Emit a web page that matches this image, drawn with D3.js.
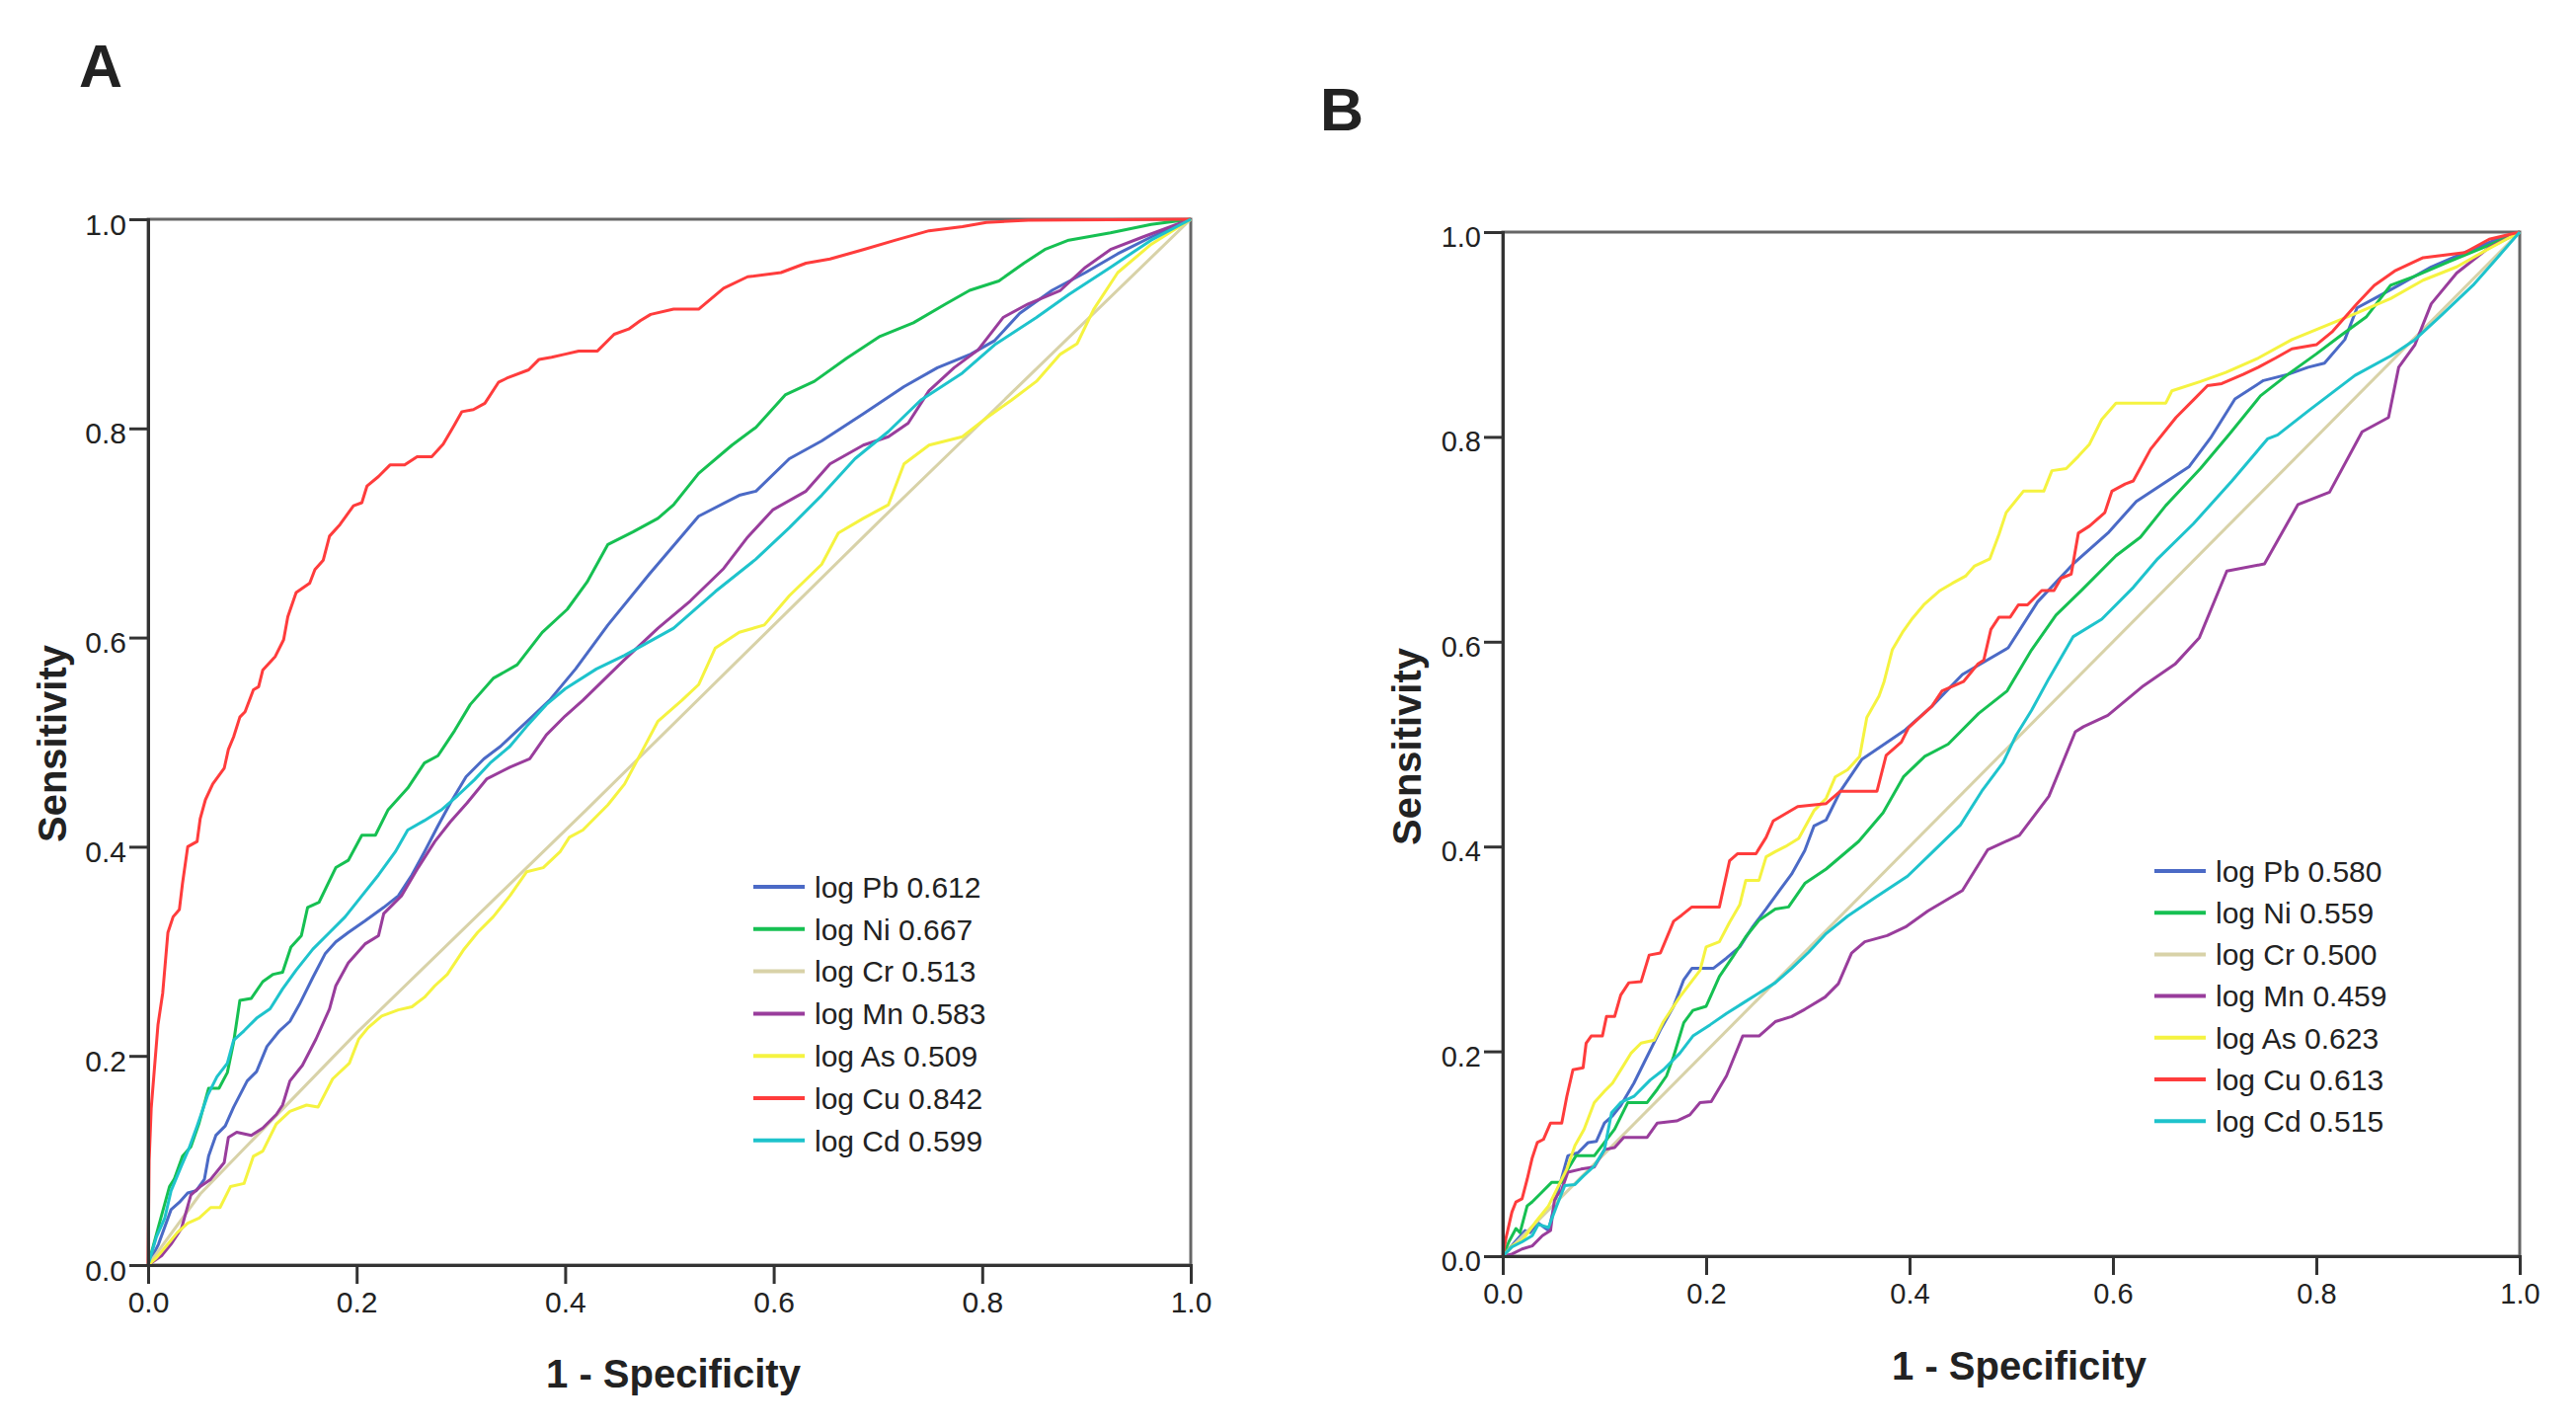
<!DOCTYPE html>
<html>
<head>
<meta charset="utf-8">
<script src="https://cdn.jsdelivr.net/npm/d3@7"></script>
<style>
  body { margin: 0; background: #fff; }
  svg text { font-family: "Liberation Sans", Arial, sans-serif; fill: #222; }
</style>
</head>
<body>
<svg id="chart" width="2609" height="1446"></svg>
<script>
// ---- data ----
var names = ["Pb", "Ni", "Cr", "Mn", "As", "Cu", "Cd"];
var colors = ["#4b6ac6", "#16c052", "#d8d2a8", "#993d9c", "#f5f340", "#ff3c3c", "#1ec3cc"];
var aucA = ["0.612", "0.667", "0.513", "0.583", "0.509", "0.842", "0.599"];
var aucB = ["0.580", "0.559", "0.500", "0.459", "0.623", "0.613", "0.515"];
var ticks = [0, 0.2, 0.4, 0.6, 0.8, 1.0];

var pbA = [[0,0],[0.01,0.02],[0.022,0.053],[0.03,0.06],[0.038,0.069],[0.046,0.071],[0.054,0.082],[0.058,0.104],[0.065,0.124],[0.074,0.133],[0.082,0.151],[0.095,0.176],[0.104,0.185],[0.114,0.209],[0.126,0.224],[0.136,0.233],[0.145,0.249],[0.158,0.275],[0.17,0.298],[0.18,0.309],[0.192,0.318],[0.208,0.329],[0.226,0.342],[0.24,0.353],[0.253,0.373],[0.265,0.395],[0.278,0.42],[0.29,0.442],[0.305,0.467],[0.322,0.484],[0.338,0.496],[0.354,0.511],[0.369,0.525],[0.385,0.54],[0.41,0.57],[0.441,0.612],[0.481,0.661],[0.504,0.688],[0.528,0.716],[0.567,0.736],[0.583,0.74],[0.615,0.771],[0.646,0.788],[0.686,0.814],[0.725,0.84],[0.757,0.858],[0.789,0.871],[0.812,0.884],[0.836,0.91],[0.867,0.932],[0.899,0.949],[0.93,0.967],[0.962,0.983],[1,1]];
var niA = [[0,0],[0.0095,0.035],[0.0205,0.075],[0.025,0.082],[0.033,0.104],[0.041,0.113],[0.049,0.136],[0.058,0.169],[0.068,0.169],[0.076,0.184],[0.082,0.213],[0.088,0.253],[0.099,0.255],[0.11,0.271],[0.12,0.278],[0.129,0.28],[0.137,0.304],[0.147,0.315],[0.153,0.342],[0.164,0.347],[0.18,0.38],[0.192,0.387],[0.205,0.411],[0.218,0.411],[0.23,0.435],[0.249,0.456],[0.265,0.48],[0.278,0.487],[0.294,0.511],[0.309,0.536],[0.331,0.561],[0.354,0.574],[0.378,0.605],[0.402,0.627],[0.421,0.653],[0.441,0.689],[0.465,0.701],[0.489,0.714],[0.504,0.727],[0.528,0.757],[0.56,0.784],[0.583,0.801],[0.611,0.832],[0.639,0.845],[0.67,0.867],[0.702,0.888],[0.734,0.901],[0.765,0.919],[0.788,0.932],[0.816,0.941],[0.84,0.958],[0.86,0.971],[0.883,0.98],[0.923,0.987],[0.962,0.995],[1,1]];
var crA = [[0,0],[0.05,0.068],[0.2,0.222],[0.42,0.435],[0.7,0.71],[1,1]];
var mnA = [[0,0],[0.013,0.009],[0.022,0.02],[0.032,0.035],[0.041,0.067],[0.05,0.075],[0.06,0.082],[0.073,0.098],[0.077,0.122],[0.085,0.127],[0.099,0.124],[0.11,0.131],[0.123,0.144],[0.129,0.153],[0.136,0.176],[0.148,0.191],[0.161,0.216],[0.174,0.245],[0.18,0.267],[0.192,0.289],[0.208,0.307],[0.221,0.315],[0.226,0.336],[0.243,0.353],[0.259,0.38],[0.275,0.405],[0.29,0.424],[0.306,0.442],[0.325,0.465],[0.347,0.476],[0.366,0.484],[0.382,0.507],[0.4,0.525],[0.417,0.54],[0.457,0.579],[0.489,0.609],[0.52,0.635],[0.552,0.666],[0.575,0.696],[0.599,0.722],[0.631,0.74],[0.654,0.766],[0.686,0.784],[0.71,0.792],[0.729,0.805],[0.749,0.836],[0.773,0.858],[0.796,0.875],[0.82,0.906],[0.844,0.919],[0.875,0.932],[0.899,0.954],[0.923,0.971],[0.954,0.983],[1,1]];
var asA = [[0,0],[0.008,0.007],[0.019,0.02],[0.028,0.031],[0.038,0.04],[0.049,0.045],[0.06,0.055],[0.069,0.055],[0.079,0.075],[0.092,0.078],[0.101,0.104],[0.11,0.109],[0.123,0.135],[0.136,0.147],[0.152,0.153],[0.163,0.151],[0.177,0.178],[0.193,0.193],[0.202,0.216],[0.211,0.227],[0.224,0.238],[0.24,0.244],[0.253,0.247],[0.265,0.256],[0.275,0.267],[0.287,0.278],[0.303,0.302],[0.316,0.318],[0.331,0.333],[0.347,0.353],[0.363,0.376],[0.379,0.38],[0.395,0.395],[0.404,0.409],[0.417,0.416],[0.441,0.44],[0.457,0.46],[0.473,0.49],[0.489,0.52],[0.512,0.54],[0.528,0.555],[0.544,0.59],[0.567,0.605],[0.591,0.612],[0.615,0.64],[0.646,0.67],[0.662,0.7],[0.686,0.714],[0.71,0.727],[0.725,0.766],[0.749,0.784],[0.781,0.792],[0.804,0.81],[0.828,0.827],[0.852,0.845],[0.875,0.871],[0.891,0.881],[0.907,0.914],[0.93,0.949],[0.962,0.976],[1,1]];
var cuA = [[0,0],[0.001,0.1],[0.003,0.15],[0.006,0.187],[0.0095,0.23],[0.014,0.26],[0.019,0.318],[0.024,0.333],[0.03,0.34],[0.033,0.365],[0.038,0.4],[0.047,0.405],[0.05,0.427],[0.055,0.445],[0.062,0.46],[0.073,0.475],[0.077,0.493],[0.082,0.505],[0.088,0.524],[0.093,0.529],[0.101,0.55],[0.106,0.553],[0.11,0.569],[0.122,0.582],[0.13,0.598],[0.134,0.62],[0.142,0.643],[0.155,0.652],[0.16,0.665],[0.168,0.674],[0.174,0.697],[0.184,0.708],[0.197,0.726],[0.205,0.729],[0.21,0.745],[0.221,0.754],[0.232,0.765],[0.246,0.765],[0.258,0.773],[0.272,0.773],[0.283,0.785],[0.293,0.802],[0.301,0.816],[0.312,0.818],[0.323,0.824],[0.336,0.844],[0.344,0.848],[0.365,0.856],[0.375,0.866],[0.387,0.868],[0.4,0.871],[0.413,0.874],[0.431,0.874],[0.447,0.89],[0.461,0.895],[0.472,0.903],[0.482,0.909],[0.504,0.914],[0.528,0.914],[0.552,0.934],[0.575,0.945],[0.607,0.949],[0.631,0.958],[0.654,0.962],[0.686,0.971],[0.717,0.98],[0.749,0.989],[0.781,0.993],[0.804,0.997],[0.844,0.999],[1,1]];
var cdA = [[0,0],[0.008,0.027],[0.016,0.045],[0.022,0.071],[0.032,0.095],[0.039,0.111],[0.047,0.133],[0.057,0.162],[0.066,0.18],[0.076,0.193],[0.082,0.215],[0.092,0.224],[0.104,0.236],[0.117,0.245],[0.129,0.264],[0.142,0.282],[0.158,0.302],[0.174,0.318],[0.189,0.333],[0.205,0.353],[0.221,0.373],[0.237,0.395],[0.249,0.416],[0.265,0.425],[0.281,0.435],[0.297,0.449],[0.313,0.464],[0.328,0.48],[0.347,0.496],[0.363,0.515],[0.382,0.536],[0.4,0.551],[0.43,0.57],[0.457,0.583],[0.504,0.609],[0.544,0.644],[0.583,0.675],[0.615,0.705],[0.646,0.736],[0.678,0.771],[0.71,0.797],[0.741,0.827],[0.781,0.853],[0.812,0.88],[0.852,0.906],[0.883,0.928],[0.923,0.954],[0.962,0.98],[1,1]];

var pbB = [[0,0],[0.006,0.007],[0.013,0.015],[0.022,0.025],[0.027,0.023],[0.034,0.033],[0.045,0.025],[0.053,0.059],[0.064,0.098],[0.074,0.101],[0.084,0.111],[0.092,0.112],[0.1,0.13],[0.108,0.137],[0.116,0.147],[0.129,0.169],[0.142,0.195],[0.155,0.221],[0.168,0.244],[0.178,0.27],[0.186,0.281],[0.207,0.281],[0.22,0.291],[0.233,0.302],[0.246,0.322],[0.259,0.339],[0.272,0.357],[0.284,0.373],[0.297,0.396],[0.306,0.42],[0.318,0.426],[0.332,0.454],[0.353,0.485],[0.396,0.514],[0.422,0.537],[0.452,0.568],[0.497,0.594],[0.526,0.639],[0.561,0.676],[0.596,0.707],[0.623,0.737],[0.675,0.771],[0.696,0.799],[0.72,0.837],[0.748,0.855],[0.772,0.861],[0.792,0.868],[0.808,0.872],[0.828,0.895],[0.84,0.926],[0.857,0.935],[0.881,0.948],[0.913,0.966],[0.946,0.98],[0.978,0.993],[1,1]];
var niB = [[0,0],[0.006,0.014],[0.013,0.027],[0.017,0.023],[0.024,0.049],[0.029,0.053],[0.038,0.062],[0.048,0.072],[0.058,0.072],[0.064,0.085],[0.072,0.098],[0.09,0.098],[0.1,0.111],[0.11,0.124],[0.123,0.15],[0.142,0.15],[0.152,0.163],[0.161,0.176],[0.168,0.195],[0.178,0.228],[0.187,0.24],[0.2,0.244],[0.213,0.273],[0.226,0.292],[0.239,0.312],[0.252,0.328],[0.268,0.339],[0.281,0.341],[0.297,0.364],[0.318,0.378],[0.35,0.405],[0.374,0.433],[0.394,0.468],[0.415,0.488],[0.438,0.5],[0.468,0.53],[0.496,0.552],[0.52,0.592],[0.544,0.626],[0.569,0.65],[0.603,0.684],[0.627,0.702],[0.652,0.733],[0.686,0.769],[0.714,0.802],[0.745,0.84],[0.772,0.861],[0.8,0.881],[0.824,0.899],[0.849,0.917],[0.873,0.948],[0.897,0.957],[0.93,0.971],[0.962,0.984],[1,1]];
var crB = [[0,0],[1,1]];
var mnB = [[0,0],[0.009,0.002],[0.019,0.007],[0.029,0.01],[0.039,0.02],[0.047,0.025],[0.051,0.056],[0.058,0.065],[0.064,0.082],[0.077,0.085],[0.09,0.087],[0.1,0.104],[0.11,0.106],[0.119,0.116],[0.142,0.116],[0.152,0.13],[0.171,0.132],[0.184,0.138],[0.194,0.15],[0.205,0.151],[0.22,0.176],[0.236,0.215],[0.252,0.215],[0.268,0.229],[0.284,0.234],[0.297,0.241],[0.317,0.253],[0.33,0.266],[0.343,0.296],[0.356,0.307],[0.378,0.313],[0.397,0.322],[0.418,0.337],[0.452,0.357],[0.477,0.397],[0.508,0.411],[0.537,0.449],[0.563,0.512],[0.571,0.517],[0.595,0.528],[0.63,0.557],[0.661,0.578],[0.685,0.604],[0.712,0.669],[0.749,0.676],[0.782,0.734],[0.813,0.746],[0.845,0.805],[0.871,0.819],[0.881,0.868],[0.897,0.89],[0.913,0.93],[0.938,0.96],[0.97,0.985],[1,1]];
var asB = [[0,0],[0.009,0.01],[0.019,0.015],[0.032,0.033],[0.045,0.049],[0.055,0.069],[0.063,0.085],[0.071,0.108],[0.08,0.124],[0.09,0.15],[0.1,0.161],[0.108,0.169],[0.118,0.185],[0.126,0.198],[0.136,0.208],[0.149,0.211],[0.158,0.229],[0.174,0.253],[0.184,0.266],[0.194,0.279],[0.2,0.302],[0.213,0.307],[0.223,0.326],[0.233,0.343],[0.239,0.367],[0.252,0.367],[0.259,0.39],[0.268,0.395],[0.278,0.4],[0.291,0.408],[0.306,0.435],[0.318,0.447],[0.327,0.468],[0.339,0.475],[0.351,0.488],[0.358,0.526],[0.37,0.547],[0.375,0.561],[0.383,0.592],[0.393,0.609],[0.403,0.623],[0.414,0.636],[0.43,0.65],[0.442,0.657],[0.455,0.664],[0.464,0.674],[0.479,0.681],[0.488,0.705],[0.495,0.726],[0.512,0.747],[0.532,0.747],[0.54,0.767],[0.554,0.769],[0.566,0.781],[0.577,0.793],[0.589,0.817],[0.603,0.833],[0.652,0.833],[0.658,0.845],[0.686,0.854],[0.711,0.863],[0.743,0.877],[0.776,0.895],[0.808,0.908],[0.84,0.921],[0.873,0.935],[0.905,0.953],[0.938,0.966],[0.97,0.984],[1,1]];
var cuB = [[0,0],[0.003,0.017],[0.009,0.043],[0.013,0.053],[0.019,0.056],[0.024,0.075],[0.029,0.096],[0.034,0.111],[0.04,0.114],[0.047,0.13],[0.058,0.13],[0.063,0.156],[0.069,0.182],[0.079,0.184],[0.082,0.208],[0.087,0.215],[0.098,0.215],[0.102,0.234],[0.11,0.234],[0.116,0.255],[0.124,0.267],[0.136,0.268],[0.144,0.294],[0.155,0.296],[0.168,0.327],[0.176,0.333],[0.186,0.341],[0.213,0.341],[0.223,0.386],[0.231,0.393],[0.249,0.393],[0.259,0.409],[0.266,0.425],[0.29,0.439],[0.318,0.442],[0.332,0.454],[0.368,0.454],[0.377,0.489],[0.392,0.502],[0.399,0.516],[0.422,0.537],[0.432,0.552],[0.453,0.561],[0.467,0.578],[0.473,0.582],[0.48,0.612],[0.488,0.624],[0.499,0.624],[0.507,0.636],[0.516,0.636],[0.53,0.65],[0.542,0.65],[0.549,0.662],[0.559,0.666],[0.566,0.706],[0.577,0.713],[0.592,0.726],[0.599,0.747],[0.612,0.754],[0.62,0.757],[0.637,0.788],[0.662,0.819],[0.679,0.836],[0.693,0.85],[0.707,0.852],[0.728,0.861],[0.743,0.868],[0.76,0.877],[0.776,0.886],[0.8,0.89],[0.816,0.903],[0.84,0.93],[0.857,0.948],[0.877,0.962],[0.905,0.975],[0.946,0.98],[0.97,0.993],[1,1]];
var cdB = [[0,0],[0.009,0.009],[0.019,0.014],[0.029,0.02],[0.035,0.031],[0.045,0.028],[0.053,0.049],[0.061,0.069],[0.071,0.07],[0.079,0.078],[0.09,0.088],[0.1,0.104],[0.107,0.14],[0.116,0.15],[0.129,0.156],[0.145,0.172],[0.158,0.182],[0.174,0.198],[0.187,0.215],[0.204,0.226],[0.22,0.237],[0.236,0.247],[0.252,0.257],[0.268,0.267],[0.284,0.281],[0.301,0.297],[0.318,0.315],[0.339,0.332],[0.366,0.35],[0.398,0.371],[0.422,0.394],[0.45,0.421],[0.471,0.454],[0.492,0.482],[0.505,0.509],[0.52,0.533],[0.537,0.564],[0.561,0.605],[0.589,0.622],[0.62,0.653],[0.644,0.681],[0.679,0.715],[0.717,0.757],[0.752,0.798],[0.762,0.802],[0.793,0.826],[0.838,0.86],[0.873,0.879],[0.897,0.895],[0.921,0.917],[0.954,0.948],[0.978,0.975],[1,1]];

var svg = d3.select("#chart");

function drawPanel(p) {
  var x = d3.scaleLinear().domain([0, 1]).range([p.left, p.right]);
  var y = d3.scaleLinear().domain([0, 1]).range([p.bottom, p.top]);
  var g = svg.append("g");

  // frame (top / right sides a bit lighter, like SPSS)
  g.append("rect")
    .attr("x", p.left).attr("y", p.top)
    .attr("width", p.right - p.left).attr("height", p.bottom - p.top)
    .attr("fill", "none").attr("stroke", "#666").attr("stroke-width", 3);

  var line = d3.line().x(d => x(d[0])).y(d => y(d[1]));
  g.selectAll(".roc")
    .data(p.series)
    .join("path")
    .attr("class", "roc")
    .attr("d", d => line(d))
    .attr("fill", "none")
    .attr("stroke", (d, i) => colors[i])
    .attr("stroke-width", 3)
    .attr("stroke-linejoin", "round");

  var fmt = d3.format(".1f");
  var xAxis = g.append("g")
    .attr("transform", "translate(0," + p.bottom + ")")
    .call(d3.axisBottom(x).tickValues(ticks).tickFormat(fmt).tickSize(19).tickPadding(8));
  var yAxis = g.append("g")
    .attr("transform", "translate(" + p.left + ",0)")
    .call(d3.axisLeft(y).tickValues(ticks).tickFormat(fmt).tickSize(19).tickPadding(3));
  [xAxis, yAxis].forEach(a => {
    a.select(".domain").attr("stroke", "#333").attr("stroke-width", 3);
    a.selectAll(".tick line").attr("stroke", "#333").attr("stroke-width", 3);
    a.selectAll(".tick text")
      .attr("font-size", p.tickFont)
      .attr("font-family", "'Liberation Sans', Arial, sans-serif")
      .style("fill", "#222");
  });
  yAxis.selectAll(".tick text").attr("dy", "0.5em");

  // legend
  var leg = g.append("g").selectAll("g")
    .data(names)
    .join("g")
    .attr("transform", (d, i) => "translate(" + p.legX + "," + (p.legY + i * p.legStep) + ")");
  leg.append("line")
    .attr("x1", 0).attr("x2", 52).attr("y1", 0).attr("y2", 0)
    .attr("stroke", (d, i) => colors[i]).attr("stroke-width", 4);
  leg.append("text")
    .attr("x", 62).attr("dy", "0.36em")
    .attr("font-size", 30)
    .text((d, i) => "log " + d + " " + p.auc[i]);

  // titles
  g.append("text")
    .attr("x", p.xTitle[0]).attr("y", p.xTitle[1])
    .attr("text-anchor", "middle")
    .attr("font-size", 40).attr("font-weight", "bold")
    .text("1 - Specificity");
  g.append("text")
    .attr("transform", "translate(" + p.yTitle[0] + "," + p.yTitle[1] + ") rotate(-90)")
    .attr("text-anchor", "middle")
    .attr("font-size", 40).attr("font-weight", "bold")
    .text("Sensitivity");
  g.append("text")
    .attr("x", p.tag[0]).attr("y", p.tag[1])
    .attr("font-size", 61).attr("font-weight", "bold")
    .text(p.label);
}

drawPanel({
  label: "A", tag: [80, 88],
  left: 150, right: 1206, top: 222, bottom: 1281,
  series: [pbA, niA, crA, mnA, asA, cuA, cdA], auc: aucA,
  legX: 763, legY: 898, legStep: 42.8,
  xTitle: [682, 1405], yTitle: [67, 753], tickFont: 30
});

drawPanel({
  label: "B", tag: [1337, 132],
  left: 1522, right: 2552, top: 235, bottom: 1272,
  series: [pbB, niB, crB, mnB, asB, cuB, cdB], auc: aucB,
  legX: 2182, legY: 882, legStep: 42.2,
  xTitle: [2045, 1397], yTitle: [1439, 756], tickFont: 29
});
</script>
</body>
</html>
